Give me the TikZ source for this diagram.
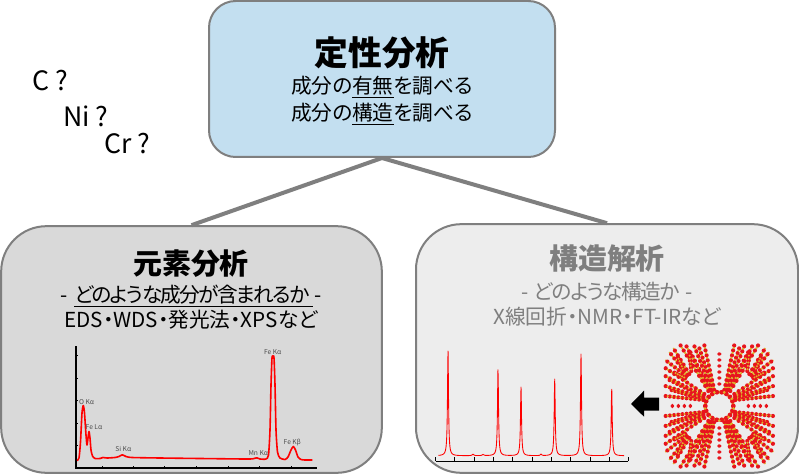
\documentclass[tikz,border=0pt]{standalone}
\usepackage{fontspec}
\usetikzlibrary{calc}
\setmainfont{Noto Sans CJK JP}[RawFeature={+palt}]
\newcommand{\ulc}[1]{\underline{#1}}
\definecolor{edgegray}{HTML}{7F7F7F}
\definecolor{topfill}{HTML}{C3DFF0}
\definecolor{leftfill}{HTML}{D9D9D9}
\definecolor{rightfill}{HTML}{EDEDED}
\definecolor{atomred}{HTML}{E8141C}
\definecolor{bondyellow}{HTML}{DDB42A}
\tikzset{
  box/.style={draw=edgegray,line width=1.5pt,rounded corners=#1,inner sep=0pt},
  link/.style={draw=edgegray,line width=3pt},
  head/.style={font=\fontsize{25.3}{25.3}\selectfont\bfseries,inner sep=0pt},
  subhead/.style={font=\fontsize{21.7}{21.7}\selectfont\bfseries,inner sep=0pt},
  body/.style={font=\fontsize{15.5}{15.5}\selectfont,inner sep=0pt},
  muted/.style={text=edgegray},
  tag/.style={font=\fontsize{20}{20}\selectfont,inner sep=0pt,anchor=west},
  peak/.style={font=\fontsize{5}{5}\selectfont,text=black!70,inner sep=0pt},
  trace/.style={draw=red,line join=round},
  axisline/.style={draw=black,line width=0.6pt},
}
\begin{document}
\begin{tikzpicture}[x=0.75pt,y=-0.75pt,
  declare function={
    lz(\u,\c,\a,\w)=\a*\w*\w/(\w*\w+(\u-\c)*(\u-\c));
  }]
\useasboundingbox (0,0) rectangle (799,474);
\fill[white] (0,0) rectangle (799,474);
% boxes
\node[box=20pt,fill=topfill,minimum width=259.5pt,minimum height=117pt] (top) at (382,79) {};
\node[box=34pt,fill=leftfill,minimum width=285.5pt,minimum height=185pt] (elem) at (191.5,349.5) {};
\node[box=34pt,fill=rightfill,minimum width=286.5pt,minimum height=186.5pt] (struct) at (607,348.5) {};
% connectors
\draw[link] (top.south) -- (elem.north);
\draw[link] (top.south) -- (struct.north);
% top text
\node[head] (t1) at (382,53) {定性分析};
\node[body] (t2) at (382,87) {成分の\ulc{有無}を調べる};
\node[body] (t3) at (382,114) {成分の\ulc{構造}を調べる};
% left text
\node[subhead] (l1) at (191,264) {元素分析};
\node[body] (l2) at (191,296) {\addfontfeature{LetterSpace=-8}-\hspace{3pt} \ulc{どのような成分が含まれるか }\hspace{1.5pt}-};
\node[body] (l3) at (191,320) {EDS・WDS・発光法・XPSなど};
% right text
\node[subhead,muted] (r1) at (607,259) {構造解析};
\node[body,muted] (r2) at (607,292) {\addfontfeature{LetterSpace=-7}-\hspace{2pt} どのような構造か \hspace{2pt}-};
\node[body,muted] (r3) at (607,317) {X線回折・NMR・FT-IRなど};
% question labels
\node[tag] (q1) at (32,81) {C ?};
\node[tag] (q2) at (63,116) {Ni ?};
\node[tag] (q3) at (104,144) {Cr ?};
% EDS spectrum
\draw[axisline,line width=1pt] (76,346) -- (76,468) -- (317,468);
\foreach \yy in {355,378,400,423,445} \draw[axisline,line width=0.3pt] (76,\yy) -- (78,\yy);
\foreach \xx in {102,133,164,196,228,259,291} \draw[axisline,line width=0.3pt] (\xx,468) -- (\xx,466);
\draw[trace,line width=1.2pt] plot[smooth,tension=0.4] coordinates {
 (77,460.5)(79,458)(80.5,442)(82,413)(83.3,405.5)(84.5,413)(86,435)(87,445)(88,438)(89,431.5)(90,438)(91,450)(92.5,456)(95,458.5)
 (100,458.5)(103,457.5)(107,458)(115,457.5)(119,456.5)(122.3,454.8)(126,456.5)(132,457.5)(160,458)(200,458.5)(245,459)(253,458.8)(256.7,457.8)(260,459)(266,459)(268.5,455)(270,430)(271,385)(272,358)(273,356)(274,358)(275,385)(276,430)(277.5,452)(280,458)(285,459.5)(288,457)(291,450)(293.3,446.5)(295.5,450)(298,457)(301,459.5)(305,460)(312.3,460)};
\node[peak] (p1) at (86.7,401.7) {O Kα};
\node[peak] (p2) at (94,426.7) {Fe Lα};
\node[peak] (p3) at (123.3,449.3) {Si Kα};
\node[peak] (p4) at (258.3,453.3) {Mn Kα};
\node[peak] (p5) at (272.7,351.7) {Fe Kα};
\node[peak] (p6) at (292.3,442.3) {Fe Kβ};
% XRD spectrum
\draw[axisline] (435.7,461) -- (628.3,461);
\foreach \xx in {435.7,454.3,474.3,493.3,512.3,532.3,551.3,570.3,590.3,609.3,628.3} \draw[axisline] (\xx,461) -- (\xx,456.7);
\draw[trace,line width=0.65pt,samples=700,domain=438.5:624]
 plot (\x,{455.8
   -10*lz(\x/10,44.8,10.48,0.06)-10*lz(\x/10,49.8,8.65,0.06)-10*lz(\x/10,52.1,6.85,0.06)
   -10*lz(\x/10,55.47,7.65,0.06)-10*lz(\x/10,58.1,10.15,0.06)-10*lz(\x/10,61.17,6.75,0.06)
   -10*lz(\x/10,47.3,0.15,0.1)-10*lz(\x/10,48.3,0.12,0.1)-10*lz(\x/10,54.1,0.15,0.08)});
% arrow
\fill[black] (631,404) -- (644,390.7) -- (644,397.7) -- (659,397.7) -- (659,410.7) -- (644,410.7) -- (644,416.7) -- cycle;
% crystal structure
\begin{scope}[shift={(719.3,406)}]
\foreach \sx in {1,-1} \foreach \sy in {1,-1} {
  \begin{scope}[xscale=\sx,yscale=\sy]
  \foreach \ax/\ay/\bx/\by in {
     5/16/15/61,6/16/20/58,8/16/25/60,9/16/29/54,10/16/33/60,11/15/39/61,
     16/6/54/10,16/7/48/16,16/8/54/20,16/9/50/26,16/10/54/30,15/12/54/38}{
    \draw[bondyellow,line width=1.1pt] (\ax,\ay) -- (\bx,\by);
    \foreach \t in {0,0.11,...,1.01}
      \fill[atomred] ($(\ax,\ay)!\t!(\bx,\by)$) circle[radius=2.1];
    \foreach \t in {0.055,0.165,...,0.95}
      \fill[bondyellow] ($(\ax,\ay)!\t!(\bx,\by)$) circle[radius=1.1];
  }
  \foreach \ax/\ay/\bx/\by in {30/32/46/58,32/31/50/54,33/30/54/46,28/35/30/54,34/28/46/34,36/36/42/50}{
    \draw[bondyellow,line width=1.1pt] (\ax,\ay) -- (\bx,\by);
    \foreach \t in {0,0.18,...,1.01}
      \fill[atomred] ($(\ax,\ay)!\t!(\bx,\by)$) circle[radius=2.1];
    \foreach \t in {0.09,0.27,...,0.95}
      \fill[bondyellow] ($(\ax,\ay)!\t!(\bx,\by)$) circle[radius=1.1];
  }
  \foreach \yy in {22,28,...,52} \fill[atomred] (0.5,\yy) circle[radius=1.8];
  \foreach \xx in {29,35,...,47} \fill[atomred] (\xx,0.5) circle[radius=1.8];
  \end{scope}
}
\draw[bondyellow,line width=2pt] (0,0) circle[radius=14];
\foreach \ang in {0,20,...,340} \fill[atomred] (\ang:14) circle[radius=2.4];
\foreach \ang in {10,50,...,350} \fill[bondyellow] (\ang:14.5) circle[radius=1.4];
\end{scope}
\end{tikzpicture}
\end{document}
